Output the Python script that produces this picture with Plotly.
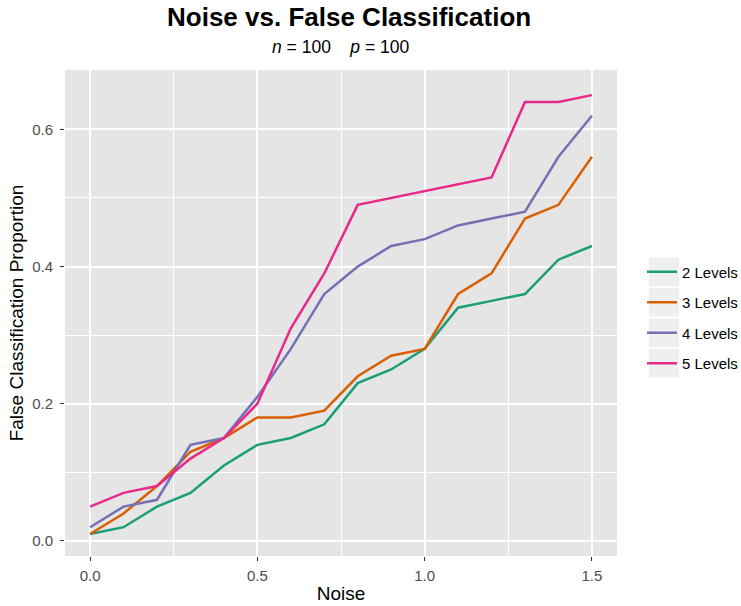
import plotly.graph_objects as go

noise = [0.0, 0.1, 0.2, 0.3, 0.4, 0.5, 0.6, 0.7, 0.8, 0.9, 1.0, 1.1, 1.2, 1.3, 1.4, 1.5]
series_names = ["2 Levels", "3 Levels", "4 Levels", "5 Levels"]
lv2 = [0.01, 0.02, 0.05, 0.07, 0.11, 0.14, 0.15, 0.17, 0.23, 0.25, 0.28, 0.34, 0.35, 0.36, 0.41, 0.43]
lv3 = [0.01, 0.04, 0.08, 0.13, 0.15, 0.18, 0.18, 0.19, 0.24, 0.27, 0.28, 0.36, 0.39, 0.47, 0.49, 0.56]
lv4 = [0.02, 0.05, 0.06, 0.14, 0.15, 0.21, 0.28, 0.36, 0.40, 0.43, 0.44, 0.46, 0.47, 0.48, 0.56, 0.62]
lv5 = [0.05, 0.07, 0.08, 0.12, 0.15, 0.20, 0.31, 0.39, 0.49, 0.50, 0.51, 0.52, 0.53, 0.64, 0.64, 0.65]
colors = ["#1B9E77", "#D95F02", "#7570B3", "#E7298A"]
x_ticks = [0.0, 0.5, 1.0, 1.5]
y_ticks = [0.0, 0.2, 0.4, 0.6]

FONT = "Liberation Sans, Arial, Helvetica, sans-serif"
W, H = 741, 606
ML, MR, MT, MB = 65, 124, 70, 50
PW, PH = W - ML - MR, H - MT - MB

fig = go.Figure()
for name, vals, col in zip(series_names, [lv2, lv3, lv4, lv5], colors):
    fig.add_trace(go.Scatter(x=noise, y=vals, mode="lines", name=name,
                             legendgroup=name,
                             line=dict(color=col, width=2.5)))

# gray legend key backgrounds (ggplot style)
shapes = []
legend_center_px = 317.5
key_step = 30.5
n = len(series_names)
for i in range(n):
    cy = legend_center_px + (i - (n - 1) / 2) * key_step
    shapes.append(dict(type="rect", xref="paper", yref="paper", layer="above",
                       x0=(649 - ML) / PW, x1=(679 - ML) / PW,
                       y0=(H - MB - (cy + 14.3)) / PH, y1=(H - MB - (cy - 14.3)) / PH,
                       fillcolor="#EFEFEF", line=dict(width=0)))

fig.update_layout(
    width=W, height=H,
    margin=dict(l=ML, r=MR, t=MT, b=MB, autoexpand=False),
    paper_bgcolor="white",
    plot_bgcolor="#E5E5E5",
    font=dict(family=FONT, color="#000000"),
    showlegend=True,
    shapes=shapes,
    legend=dict(x=(642 - ML) / PW, y=(H - MB - legend_center_px) / PH,
                xanchor="left", yanchor="middle",
                font=dict(size=15, color="#000000"),
                traceorder="grouped", tracegroupgap=8,
                itemwidth=30, bgcolor="rgba(0,0,0,0)"),
    annotations=[
        dict(text="<b>Noise vs. False Classification</b>", xref="paper", yref="paper",
             x=0.514, y=1, yshift=53, xanchor="center", yanchor="middle",
             showarrow=False, font=dict(size=26, color="#000000", family=FONT)),
        dict(text="<i>n</i> = 100    <i>p</i> = 100", xref="paper", yref="paper",
             x=0.499, y=1, yshift=23, xanchor="center", yanchor="middle",
             showarrow=False, font=dict(size=17.5, color="#000000", family=FONT)),
    ],
)

fig.update_xaxes(
    range=[-0.075, 1.575], tickvals=x_ticks, ticktext=[f"{v:.1f}" for v in x_ticks],
    showgrid=True, gridcolor="white", gridwidth=1.8,
    minor=dict(tickvals=[0.25, 0.75, 1.25], showgrid=True, gridcolor="white", gridwidth=0.9),
    ticks="outside", ticklen=4, tickcolor="#333333", tickwidth=1.2,
    tickfont=dict(size=15, color="#4D4D4D"), ticklabelstandoff=2,
    zeroline=False, showline=False,
    title=dict(text="Noise", font=dict(size=19, color="#000000"), standoff=3),
)
fig.update_yaxes(
    range=[-0.022, 0.6866], tickvals=y_ticks, ticktext=[f"{v:.1f}" for v in y_ticks],
    showgrid=True, gridcolor="white", gridwidth=1.8,
    minor=dict(tickvals=[0.1, 0.3, 0.5], showgrid=True, gridcolor="white", gridwidth=0.9),
    ticks="outside", ticklen=4, tickcolor="#333333", tickwidth=1.2,
    tickfont=dict(size=15, color="#4D4D4D"), ticklabelstandoff=4,
    zeroline=False, showline=False,
    title=dict(text="False Classification Proportion", font=dict(size=19, color="#000000"), standoff=3),
)

fig.write_html("out.html")
